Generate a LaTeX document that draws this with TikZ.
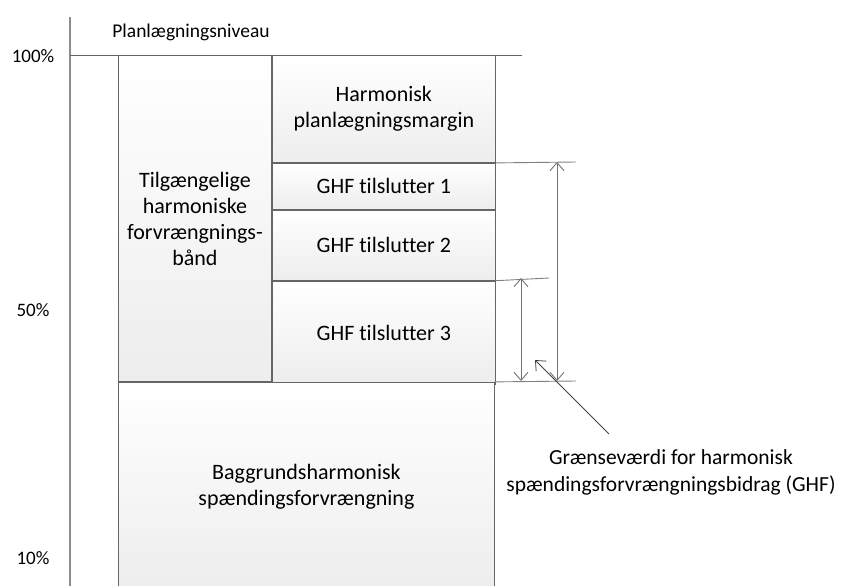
\documentclass[tikz,border=0pt]{standalone}
\usepackage{fontspec}
\setmainfont{Carlito}[Ligatures=NoCommon]
\usetikzlibrary{arrows.meta,positioning}
\tikzset{band/.style={draw=black!60,line width=0.9pt,top color=white,bottom color=black!7,
    anchor=north west,align=center,inner sep=0pt,font=\fontsize{22}{26}\selectfont},
  guide/.style={draw=black!50,line width=0.9pt},
  dim/.style={draw=black!55,line width=0.9pt,{Straight Barb[length=8pt,width=14pt]}-{Straight Barb[length=8pt,width=14pt]}},
  pct/.style={font=\fontsize{19}{22}\selectfont,anchor=center}}

\begin{document}
\begin{tikzpicture}[x=1pt,y=-1pt]
                \useasboundingbox (0,0) rectangle (841,586);
                % axis and planning level
                \coordinate (axtop) at (70,17);
                \coordinate (axbot) at (70,600);
                \draw[black!45,line width=1.6pt] (axtop) -- (axbot);
                \node[font=\fontsize{19.5}{22}\selectfont] (plan) at (191,32) {Planlægningsniveau};
                \coordinate (lvl) at (70,55);
                \coordinate (lvlend) at (522,55);
                \draw[black!60,line width=0.9pt] (lvl) -- (lvlend);
                \node[pct] (p100) at (33,56) {100\%};
                \node[pct] (p50) at (33,310) {50\%};
                \node[pct] (p10) at (33,558) {10\%};
                % bands
                \node[band,minimum width=153,minimum height=326] (avail) at (118,55)
                    {Tilgængelige\\harmoniske\\forvrængnings-\\bånd};
                \node[band,minimum width=223,minimum height=107] (margin) at (avail.north east)
                    {Harmonisk\\planlægningsmargin};
                \node[band,minimum width=223,minimum height=46] (ghf1) at (margin.south west)
                    {GHF tilslutter 1};
                \node[band,minimum width=223,minimum height=70] (ghf2) at (ghf1.south west)
                    {GHF tilslutter 2};
                \node[band,minimum width=223,minimum height=103] (ghf3) at (ghf2.south west)
                    {GHF tilslutter 3};
                \node[band,minimum width=376,minimum height=208] (bg) at (avail.south west)
                    {Baggrundsharmonisk\\spændingsforvrængning};
                % limits
                \coordinate (g1) at (576,162);
                \coordinate (g3) at (549,278);
                \coordinate (g0) at (576,381);
                \draw[guide] (ghf1.north east) -- (g1);
                \draw[guide] (ghf3.north east) -- (g3);
                \draw[guide] (bg.north east) -- (g0);
                \coordinate (d1t) at (557,162);
                \coordinate (d1b) at (557,381);
                \coordinate (d2t) at (521,278);
                \coordinate (d2b) at (521,381);
                \draw[dim] (d1t) -- (d1b);
                \draw[dim] (d2t) -- (d2b);
                \node[font=\fontsize{21.5}{27}\selectfont,align=center] (lim) at (671,472)
                    {Grænseværdi for harmonisk\\spændingsforvrængningsbidrag (GHF)};
                \coordinate (tail) at (609,434);
                \coordinate (tip) at (535,360);
                \draw[black!75,line width=0.8pt,-{Straight Barb[length=8pt,width=14pt]}] (tail) -- (tip);
            \end{tikzpicture}
\end{document}
